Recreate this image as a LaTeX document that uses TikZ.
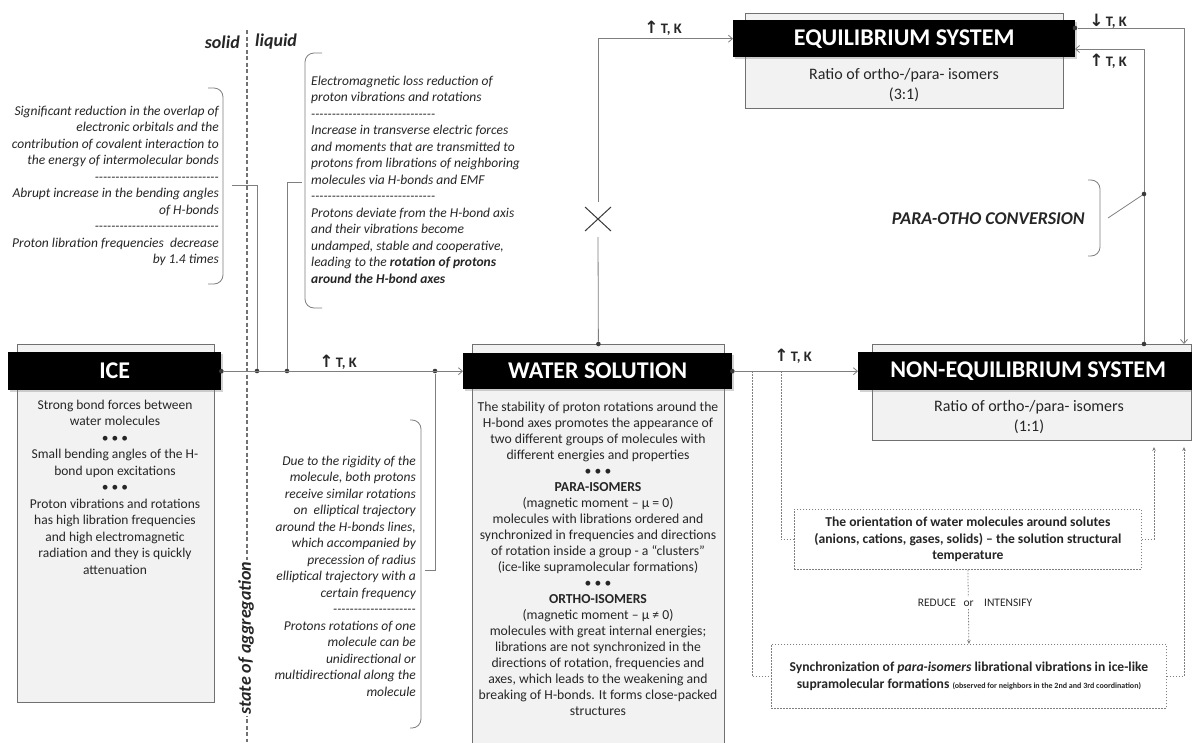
\documentclass[tikz,border=0pt]{standalone}
\usepackage{fontspec}
\setmainfont{Carlito}
\newfontfamily\dv{DejaVu Sans}
\usetikzlibrary{arrows.meta,shadows}
\definecolor{lc}{HTML}{7F7F7F}
\definecolor{bc}{HTML}{707070}
\definecolor{pf}{HTML}{F2F2F2}
\definecolor{tc}{HTML}{262626}
\definecolor{dc}{HTML}{3A3A3A}
\newcommand\dd{-\kern0pt-\kern0pt-\kern0pt-\kern0pt-\kern0pt}
\newcommand\up{{\dv\bfseries\fontsize{17}{17}\selectfont ↑}\,T, K}
\newcommand\down{{\dv\bfseries\fontsize{17}{17}\selectfont ↓}\,T, K}
\begin{document}
\begin{tikzpicture}[x=1pt,y=-1pt,
  line/.style={draw=lc, line width=0.8pt},
  arr/.style={line, -{Straight Barb[length=4pt,width=7pt]}},
  dotl/.style={draw=lc, line width=0.8pt, dash pattern=on 1.5pt off 1.5pt},
  darr/.style={dotl, -{Stealth[length=4pt,width=3.5pt]}},
  brk/.style={draw=lc, line width=0.8pt, rounded corners=9pt},
  pane/.style={draw=bc, fill=pf, line width=0.8pt, anchor=north west, inner sep=0},
  head/.style={fill=black, text=white, font=\fontsize{24}{28}\selectfont\bfseries, inner sep=0, anchor=north west,
     drop shadow={shadow xshift=1.5pt, shadow yshift=-1.5pt, opacity=0.35}},
  body/.style={text=tc, font=\fontsize{13.5}{16.5}\selectfont, align=center, inner sep=0},
  ital/.style={text=tc, font=\fontsize{13.5}{16.5}\selectfont\itshape, inner sep=0},
  dbox/.style={dotl, fill=white, inner sep=0, anchor=north west, text=tc,
     font=\fontsize{13.6}{16.8}\selectfont\bfseries, align=center},
  lab/.style={text=tc, font=\fontsize{14.5}{16}\selectfont\bfseries, inner sep=0},
  dot/.style={circle, fill=dc, inner sep=0, minimum size=4.6pt},
  big/.style={text=tc, font=\fontsize{18}{21}\selectfont\bfseries\itshape, inner sep=0}]
\useasboundingbox (0,0) rectangle (1192,742);
\clip (0,0) rectangle (1192,742);
\fill[white] (0,0) rectangle (1192,742);

% divider
\draw[draw=lc!90!black, line width=1.1pt, dash pattern=on 4pt off 2.5pt] (247,30) -- (247,742);
\node[big, anchor=east] (solid) at (240,42) {solid};
\node[big, anchor=west] (liquid) at (255,42) {liquid};
\node[big, rotate=90, fill=white, inner sep=2pt] (agg) at (246,638) {state of aggregation};

% panes
\node[pane, minimum width=197pt, minimum height=358pt] (ice) at (17,344) {};
\node[head, minimum width=213pt, minimum height=38pt] (iceh) at (8,352) {ICE};
\node[pane, minimum width=252pt, minimum height=420pt] (wat) at (472,344) {};
\node[head, minimum width=269pt, minimum height=36pt] (wath) at (463,353) {WATER SOLUTION};
\node[pane, minimum width=318pt, minimum height=95pt] (eq) at (745,13) {};
\node[head, minimum width=342pt, minimum height=37pt] (eqh) at (733,20) {EQUILIBRIUM SYSTEM};
\node[pane, minimum width=319pt, minimum height=96pt] (neq) at (872,344) {};
\node[head, minimum width=340pt, minimum height=38pt] (neqh) at (858,352) {NON-EQUILIBRIUM SYSTEM};

% pane texts
\node[body, anchor=north] (icet) at (115,399.5) {Strong bond forces between\\water molecules\\• • •\\Small bending angles of the H-\\bond upon excitations\\• • •\\Proton vibrations and rotations\\has high libration frequencies\\and high electromagnetic\\radiation and they is quickly\\attenuation};
\node[body, anchor=north, font=\fontsize{13.7}{16}\selectfont] (watt) at (598,401.5) {The stability of proton rotations around the\\H-bond axes promotes the appearance of\\two different groups of molecules with\\different energies and properties\\• • •\\\textbf{PARA-ISOMERS}\\(magnetic moment – μ = 0)\\molecules with librations ordered and\\synchronized in frequencies and directions\\of rotation inside a group - a “clusters”\\(ice-like supramolecular formations)\\• • •\\\textbf{ORTHO-ISOMERS}\\(magnetic moment – μ ≠ 0)\\molecules with great internal energies;\\librations are not synchronized in the\\directions of rotation, frequencies and\\axes, which leads to the weakening and\\breaking of H-bonds. It forms close-packed\\structures};
\node[body, anchor=north, font=\fontsize{16}{20}\selectfont] (eqt) at (904,68) {Ratio of ortho-/para-\ isomers\\(3:1)};
\node[body, anchor=north, font=\fontsize{16}{20}\selectfont] (neqt) at (1029,400) {Ratio of ortho-/para-\ isomers\\(1:1)};

% bracket texts
\node[ital, anchor=north east, align=right] (t1) at (219,105.5) {Significant reduction in the overlap of\\electronic orbitals and the\\contribution of covalent interaction to\\the energy of intermolecular bonds\\\dd\dd\dd\dd\dd\dd\\Abrupt increase in the bending angles\\of H-bonds\\\dd\dd\dd\dd\dd\dd\\Proton libration frequencies\ \ decrease\\by 1.4 times};
\node[ital, anchor=north west, align=left] (t2) at (311,75.5) {Electromagnetic loss reduction of\\proton vibrations and rotations\\\dd\dd\dd\dd\dd\dd\\Increase in transverse electric forces\\and moments that are transmitted to\\protons from librations of neighboring\\molecules via H-bonds and EMF\\\dd\dd\dd\dd\dd\dd\\Protons deviate from the H-bond axis\\and their vibrations become\\undamped, stable and cooperative,\\leading to the \textbf{rotation of protons}\\\textbf{around the H-bond axes}};
\node[ital, anchor=north east, align=right] (t3) at (416,455.5) {Due to the rigidity of the\\molecule, both protons\\receive similar rotations\\on\ \ elliptical trajectory\\around the H-bonds lines,\\which accompanied by\\precession of radius\\elliptical trajectory with a\\certain frequency\\\dd\dd\dd\dd\\Protons rotations of one\\molecule can be\\unidirectional or\\multidirectional along the\\molecule};

% brackets
\draw[brk] (208,88) -| (223,284) -- (208,284);
\draw[brk] (322,53) -| (305,308) -- (322,308);
\draw[brk] (410,420) -| (421,728) -- (410,728);
\draw[brk] (1088,180) -| (1100,256) -- (1088,256);
\node[big, anchor=east] (conv) at (1085,219) {PARA-OTHO CONVERSION};

% main line
\node[dot] (d0) at (iceh.east) {};
\node[dot] (d1) at (257,371) {};
\node[dot] (d2) at (287,371) {};
\node[dot] (d3) at (435,371) {};
\draw[arr] (d0) -- (wath.west);
\node[lab] (l1) at (338,362) {\up};
\coordinate (b1m) at (232,185);
\coordinate (b2m) at (302,182);
\coordinate (b3m) at (425,570);
\draw[line] (b1m) -| (d1);
\draw[line] (b2m) -| (d2);
\draw[line] (d3) |- (b3m);

% water -> non-eq
\node[dot] (d4) at (wath.east) {};
\draw[arr] (d4) -- (neqh.west);
\node[lab] (l2) at (793,356) {\up};

% water -> eq
\node[dot] (d5) at (wat.north) {};
\coordinate (xlo) at (598,237);
\coordinate (xhi) at (598,202);
\draw[line] (d5) -- (xlo);
\draw[arr] (xhi) |- (eqh.west);
\draw[draw=dc, line width=1pt] (585,207) -- (611,231) (585,231) -- (611,207);
\node[lab] (l3) at (663,28) {\up};

% eq <-> non-eq
\node[dot] (d6) at (1075,28) {};
\coordinate (nin) at (1184,344);
\draw[arr] (d6) -| (nin);
\node[lab] (l4) at (1108,21) {\down};
\node[dot] (d7) at (1144,344) {};
\coordinate (eqin) at (1075,49);
\draw[arr] (d7) |- (eqin);
\node[lab] (l5) at (1108,61) {\up};
\node[dot] (d8) at (1144,194) {};
\coordinate (cm) at (1108,218);
\draw[line] (cm) -- (d8);

% dotted boxes
\node[dbox, minimum width=347pt, minimum height=60pt] (ori) at (794,509) {The orientation of water molecules around solutes\\(anions, cations, gases, solids) – the solution structural\\temperature};
\node[dbox, minimum width=395pt, minimum height=64pt] (sync) at (771,644) {Synchronization of \textit{para-isomers} librational vibrations in ice-like\\supramolecular formations {\fontsize{8}{10}\selectfont (observed for neighbors in the 2nd and 3rd coordination)}};
\coordinate (p1) at (752,371);
\coordinate (p2) at (781,371);
\coordinate (nb1) at (1154,447);
\coordinate (nb2) at (1184,447);
\draw[dotl] (p1) |- (sync.west);
\draw[dotl] (p2) |- (ori.west);
\draw[darr] (ori.east) -| (nb1);
\draw[darr] (sync.east) -| (nb2);
\draw[darr] (ori.south) -- (sync.north);
\node[fill=white, text=tc, font=\fontsize{11.5}{13}\selectfont, inner sep=2pt] (ri) at (975,603) {REDUCE\ \ \ or\ \ \ \ INTENSIFY};
\end{tikzpicture}
\end{document}
